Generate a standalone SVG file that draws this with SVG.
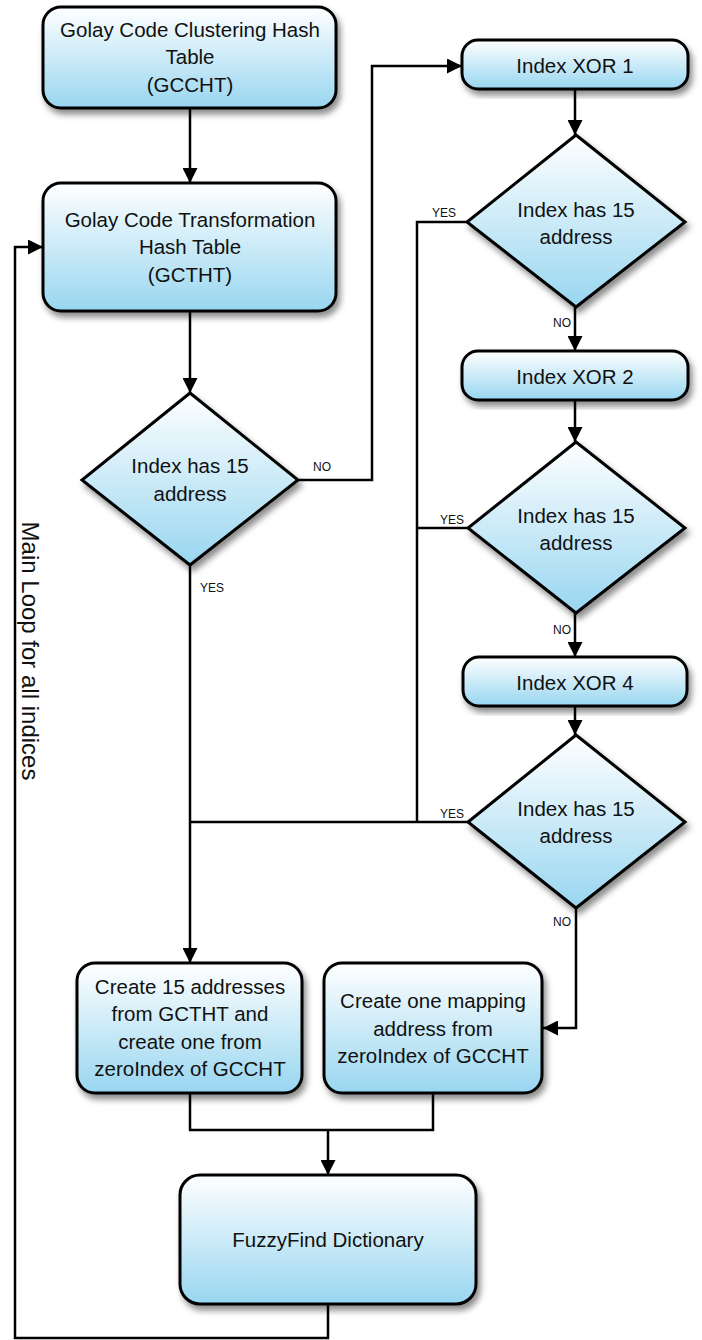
<svg xmlns="http://www.w3.org/2000/svg" width="702" height="1340" viewBox="0 0 702 1340">
<style>
.n{stroke:#000;stroke-width:3;fill:url(#g);filter:url(#sh)}
.t{font-family:"Liberation Sans",Arial,sans-serif;font-size:20.5px;fill:#111;text-anchor:middle}
.l{font-family:"Liberation Sans",Arial,sans-serif;font-size:12px;fill:#111}
.c{stroke:#000;stroke-width:2.5;fill:none}
.a{stroke:#000;stroke-width:2.5;fill:none;marker-end:url(#ar)}
</style>
<defs>
<linearGradient id="g" x1="0" y1="0" x2="0" y2="1">
<stop offset="0" stop-color="#ffffff"/>
<stop offset="1" stop-color="#98d6f0"/>
</linearGradient>
<filter id="sh" x="-10%" y="-10%" width="125%" height="130%">
<feDropShadow dx="3" dy="5" stdDeviation="3" flood-color="#000" flood-opacity="0.45"/>
</filter>
<marker id="ar" viewBox="0 0 10 10" refX="10" refY="5" markerWidth="6" markerHeight="6" markerUnits="strokeWidth" orient="auto">
<path d="M0,0 L10,5 L0,10 z" fill="#000"/>
</marker>
</defs>
<g id="connectors">
<path class="a" d="M190,108 V183"/>
<path class="a" d="M190,311 V393"/>
<path class="a" d="M298,480 H372 V66 H462"/>
<path class="a" d="M575,89 V135"/>
<path class="a" d="M575,307 V351"/>
<path class="a" d="M575,400 V442"/>
<path class="a" d="M575,613 V657"/>
<path class="a" d="M575,706 V735"/>
<path class="c" d="M467,222 H417 V822"/>
<path class="c" d="M468,528 H417"/>
<path class="c" d="M468,822 H190"/>
<path class="a" d="M190,565 V963"/>
<path class="a" d="M576,908 V1028 H543"/>
<path class="c" d="M190,1093 V1130 H433 V1093"/>
<path class="a" d="M328,1130 V1175"/>
<path class="a" d="M328,1304 V1338 H15 V247 H43"/>
<text class="l" x="313" y="471">NO</text>
<text class="l" x="200" y="592">YES</text>
<text class="l" x="432" y="217">YES</text>
<text class="l" x="553" y="327">NO</text>
<text class="l" x="440" y="524">YES</text>
<text class="l" x="553" y="634">NO</text>
<text class="l" x="440" y="818">YES</text>
<text class="l" x="553" y="926">NO</text>
</g>
<g id="gccht">
<rect class="n" x="43" y="7" width="293" height="101" rx="18"/>
<text class="t" x="190" y="37">Golay Code Clustering Hash</text>
<text class="t" x="190" y="64">Table</text>
<text class="t" x="190" y="92">(GCCHT)</text>
</g>
<g id="gctht">
<rect class="n" x="43" y="183" width="293" height="128" rx="18"/>
<text class="t" x="190" y="227">Golay Code Transformation</text>
<text class="t" x="190" y="254">Hash Table</text>
<text class="t" x="190" y="282">(GCTHT)</text>
</g>
<g id="dec1">
<polygon class="n" points="190,393 298,480 190,565 82,480"/>
<text class="t" x="190" y="473">Index has 15</text>
<text class="t" x="190" y="501">address</text>
</g>
<g id="xor1">
<rect class="n" x="462" y="40" width="226" height="49" rx="16"/>
<text class="t" x="575" y="73">Index XOR 1</text>
</g>
<g id="dec2">
<polygon class="n" points="576,135 685,222 576,307 467,222"/>
<text class="t" x="576" y="217">Index has 15</text>
<text class="t" x="576" y="244">address</text>
</g>
<g id="xor2">
<rect class="n" x="462" y="351" width="226" height="49" rx="16"/>
<text class="t" x="575" y="384">Index XOR 2</text>
</g>
<g id="dec3">
<polygon class="n" points="576,442 685,528 576,613 468,528"/>
<text class="t" x="576" y="523">Index has 15</text>
<text class="t" x="576" y="550">address</text>
</g>
<g id="xor4">
<rect class="n" x="463" y="657" width="224" height="49" rx="16"/>
<text class="t" x="575" y="690">Index XOR 4</text>
</g>
<g id="dec4">
<polygon class="n" points="576,735 685,822 576,908 468,822"/>
<text class="t" x="576" y="816">Index has 15</text>
<text class="t" x="576" y="843">address</text>
</g>
<g id="create15">
<rect class="n" x="77" y="963" width="225" height="130" rx="18"/>
<text class="t" x="190" y="994">Create 15 addresses</text>
<text class="t" x="190" y="1021">from GCTHT and</text>
<text class="t" x="190" y="1049">create one from</text>
<text class="t" x="190" y="1076">zeroIndex of GCCHT</text>
</g>
<g id="createone">
<rect class="n" x="324" y="963" width="218" height="130" rx="18"/>
<text class="t" x="433" y="1008">Create one mapping</text>
<text class="t" x="433" y="1036">address from</text>
<text class="t" x="433" y="1063">zeroIndex of GCCHT</text>
</g>
<g id="fuzzyfind">
<rect class="n" x="180" y="1175" width="296" height="129" rx="20"/>
<text class="t" x="328" y="1247">FuzzyFind Dictionary</text>
</g>
<text class="t" style="font-size:24px" transform="translate(22,651) rotate(90)">Main Loop for all indices</text>
</svg>
